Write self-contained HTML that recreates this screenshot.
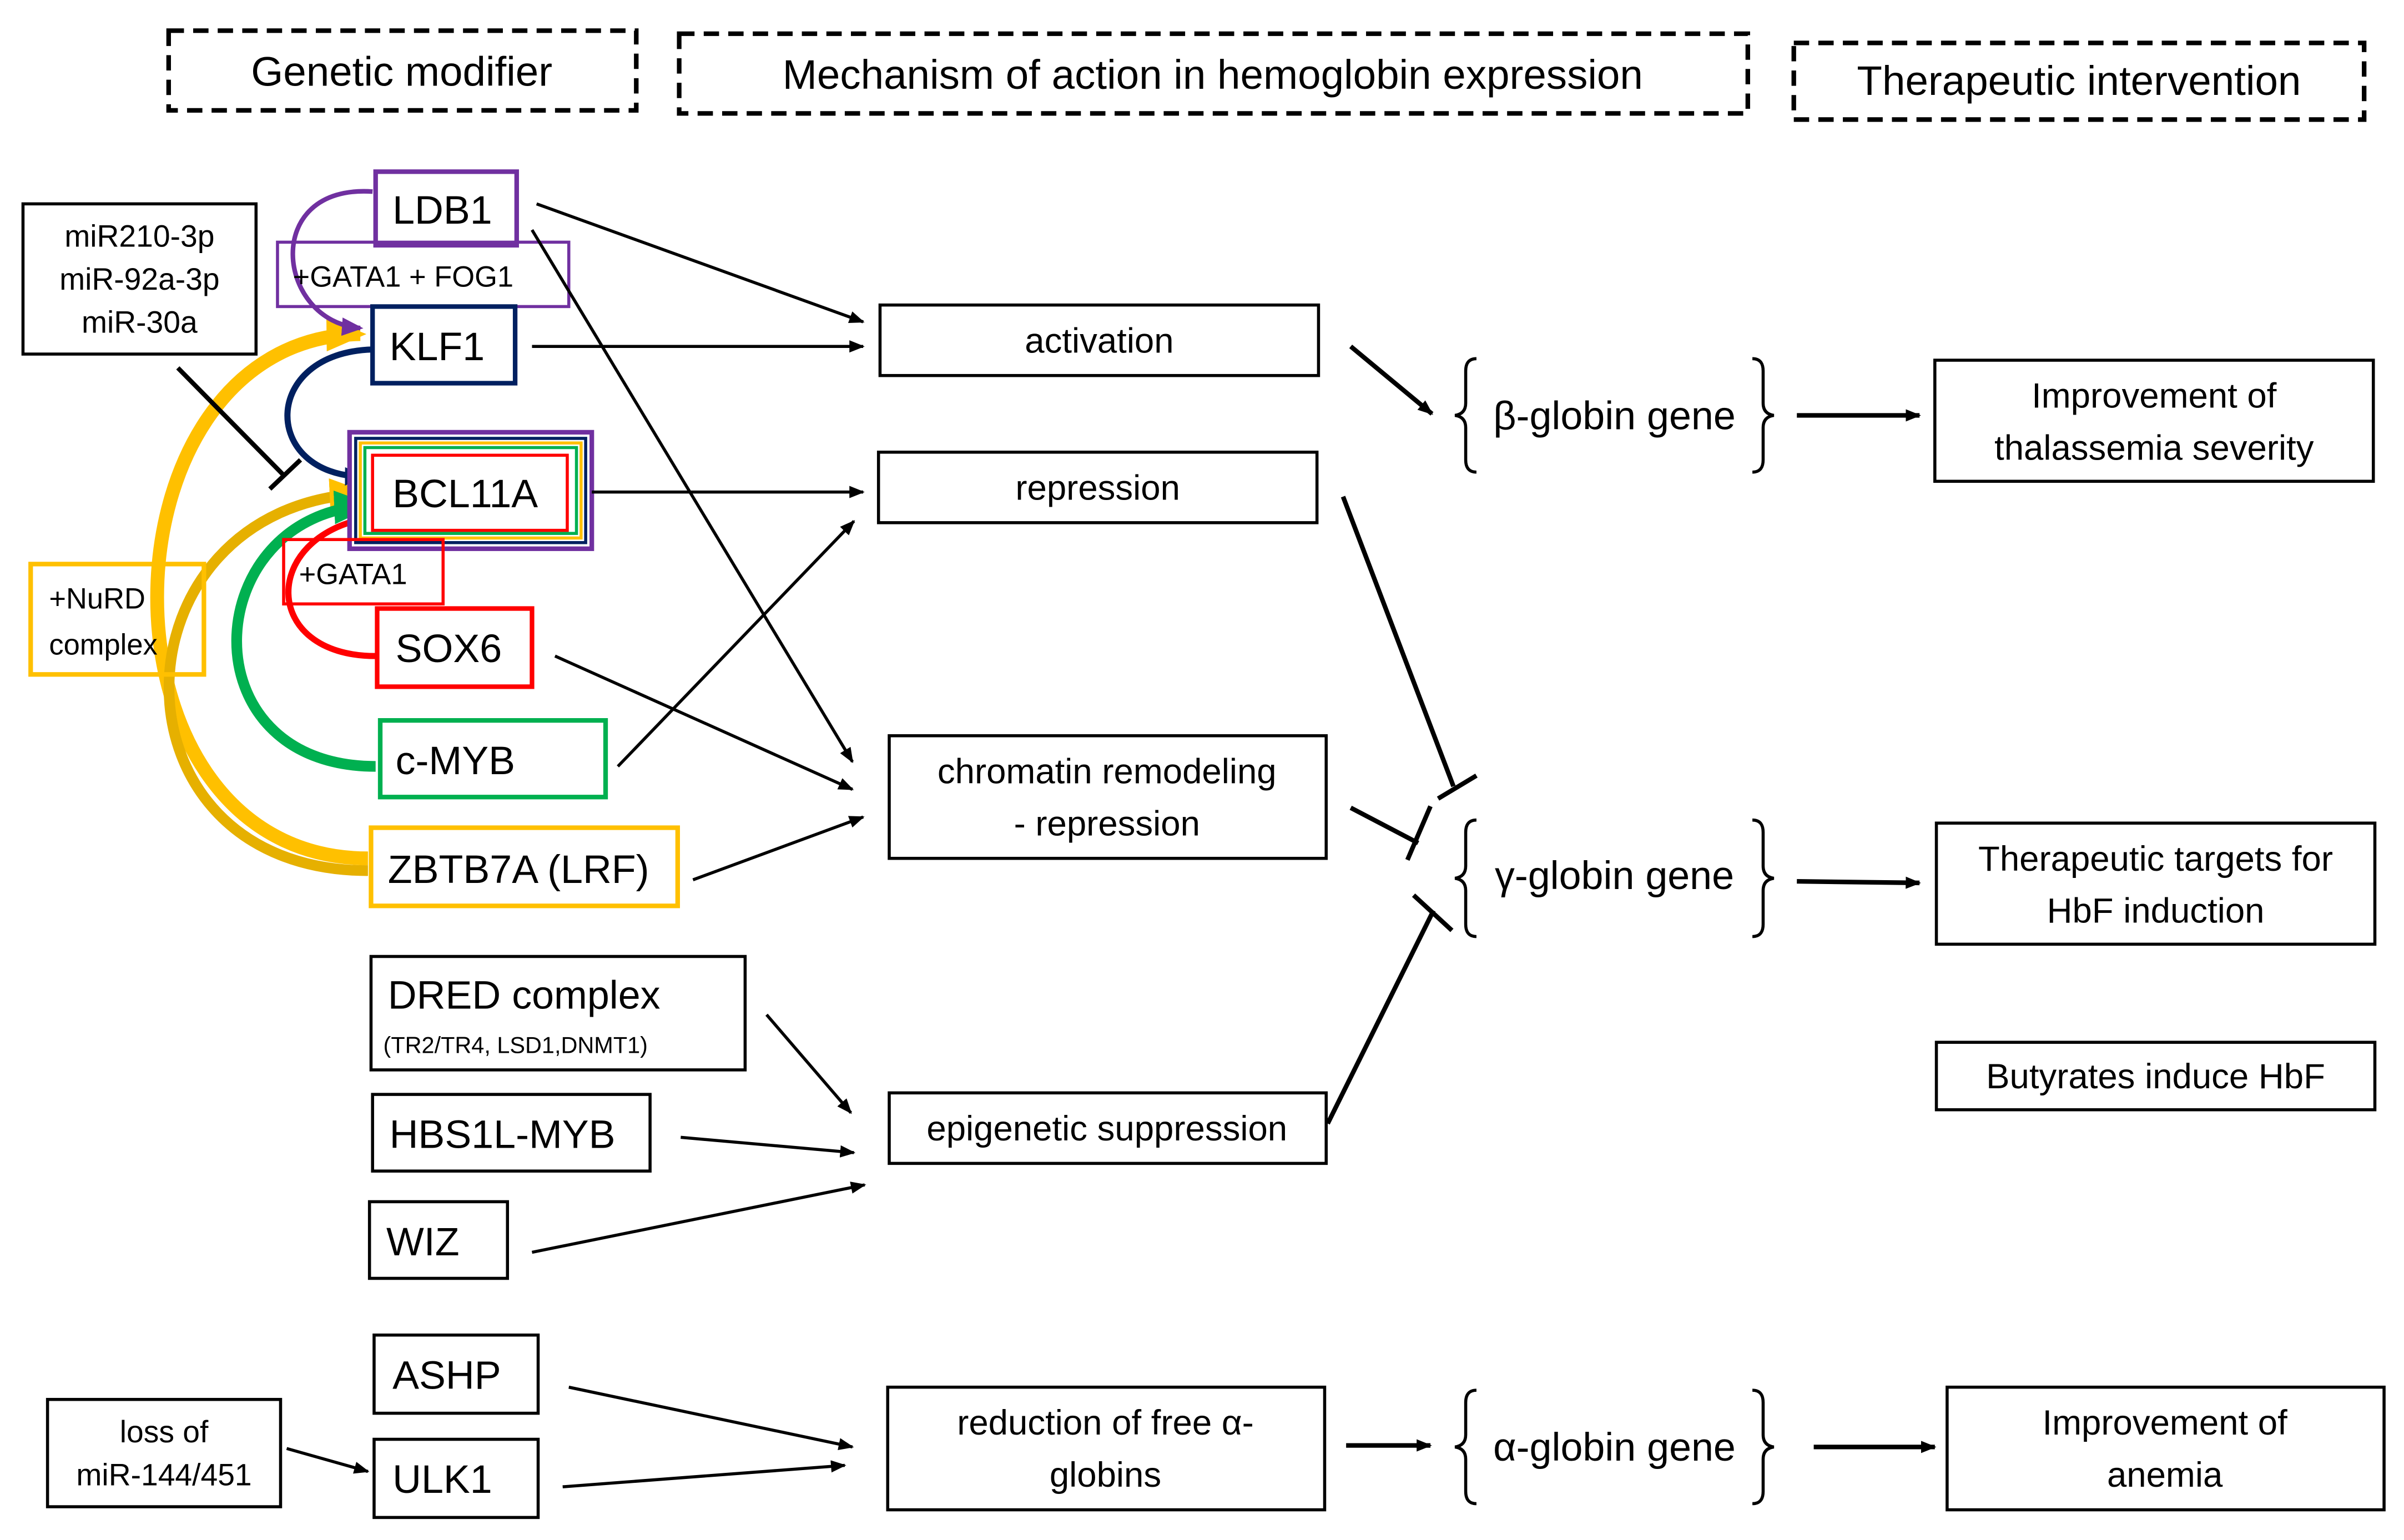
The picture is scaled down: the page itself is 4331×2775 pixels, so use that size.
<!DOCTYPE html>
<html><head><meta charset="utf-8"><style>
html,body{margin:0;padding:0;background:#fff;}
svg{display:block;}
text{font-family:"Liberation Sans",sans-serif;fill:#000;}
</style></head><body>
<svg width="4331" height="2775" viewBox="0 0 1568 1004.7" preserveAspectRatio="none" xmlns="http://www.w3.org/2000/svg">
<defs>
<marker id="ah" markerWidth="10" markerHeight="8" refX="9" refY="4" orient="auto" markerUnits="userSpaceOnUse"><path d="M0,0 L10,4 L0,8 z" fill="#000"/></marker>
<marker id="ahp" markerWidth="14" markerHeight="12" refX="12" refY="6" orient="auto" markerUnits="userSpaceOnUse"><path d="M0,0 L14,6 L0,12 z" fill="#7030a0"/></marker>
<marker id="ahn" markerWidth="14" markerHeight="12" refX="12" refY="6" orient="auto" markerUnits="userSpaceOnUse"><path d="M0,0 L14,6 L0,12 z" fill="#002060"/></marker>
<marker id="ahy" markerWidth="26" markerHeight="22" refX="22" refY="11" orient="auto" markerUnits="userSpaceOnUse"><path d="M0,0 L26,11 L0,22 z" fill="#ffc000"/></marker>
<marker id="ahg" markerWidth="26" markerHeight="22" refX="22" refY="11" orient="auto" markerUnits="userSpaceOnUse"><path d="M0,0 L26,11 L0,22 z" fill="#00b050"/></marker>
</defs>
<rect width="1568" height="1005" fill="#fff"/>
<g fill="none" stroke="#000" stroke-width="3" stroke-dasharray="10,6">
<rect x="110" y="20" width="305" height="52"/>
<rect x="443" y="22" width="697" height="52"/>
<rect x="1170" y="28" width="372" height="50"/>
</g>
<g font-size="27" text-anchor="middle">
<text x="262" y="56">Genetic modifier</text>
<text x="791" y="58">Mechanism of action in hemoglobin expression</text>
<text x="1356" y="62">Therapeutic intervention</text>
</g>

<g fill="none">
<path d="M240,560 C55,560 60,220 235,218" stroke="#ffc000" stroke-width="9" marker-end="url(#ahy)"/>
<path d="M240,568 C65,568 70,330 237,322" stroke="#e6b000" stroke-width="7" marker-end="url(#ahy)"/>
<path d="M245,500 C120,500 130,335 240,330" stroke="#00b050" stroke-width="7" marker-end="url(#ahg)"/>
<path d="M245,428 C170,428 170,350 240,338" stroke="#ff0000" stroke-width="4"/>
<path d="M243,125 C170,120 180,210 235,214" stroke="#7030a0" stroke-width="3" marker-end="url(#ahp)"/>
<path d="M243,228 C170,230 170,310 237,311" stroke="#002060" stroke-width="4" marker-end="url(#ahn)"/>
</g>

<g fill="#fff" stroke-width="3">
<rect x="245" y="112" width="92" height="48" stroke="#7030a0"/>
<rect x="181" y="158" width="190" height="42" stroke="#7030a0" stroke-width="2" fill="none"/>
<rect x="243" y="200" width="93" height="50" stroke="#002060"/>
<rect x="15" y="133" width="152" height="98" stroke="#000" stroke-width="2"/>
<rect x="228" y="282" width="158" height="76" stroke="#7030a0"/>
<rect x="232" y="286" width="150" height="68" stroke="#002060" fill="none" stroke-width="2"/>
<rect x="235" y="289" width="144" height="62" stroke="#ffc000" fill="none" stroke-width="2"/>
<rect x="238" y="292" width="138" height="56" stroke="#00b050" fill="none" stroke-width="2"/>
<rect x="243" y="297" width="127" height="49" stroke="#ff0000" stroke-width="2"/>
<rect x="185" y="352" width="104" height="42" stroke="#ff0000" fill="none" stroke-width="2"/>
<rect x="246" y="397" width="101" height="51" stroke="#ff0000"/>
<rect x="248" y="470" width="147" height="50" stroke="#00b050"/>
<rect x="242" y="540" width="200" height="51" stroke="#ffc000"/>
<rect x="20" y="368" width="113" height="72" stroke="#ffc000" fill="none"/>
<rect x="242" y="624" width="244" height="74" stroke="#000" stroke-width="2"/>
<rect x="243" y="714" width="181" height="50" stroke="#000" stroke-width="2"/>
<rect x="241" y="784" width="90" height="50" stroke="#000" stroke-width="2"/>
<rect x="244" y="871" width="107" height="51" stroke="#000" stroke-width="2"/>
<rect x="244" y="939" width="107" height="51" stroke="#000" stroke-width="2"/>
<rect x="31" y="913" width="152" height="70" stroke="#000" stroke-width="2"/>
</g>
<g font-size="26">
<text x="256" y="146">LDB1</text>
<text x="254" y="235">KLF1</text>
<text x="256" y="331">BCL11A</text>
<text x="258" y="432">SOX6</text>
<text x="258" y="505">c-MYB</text>
<text x="253" y="576">ZBTB7A (LRF)</text>
<text x="253" y="658">DRED complex</text>
<text x="254" y="749">HBS1L-MYB</text>
<text x="252" y="819">WIZ</text>
<text x="256" y="906">ASHP</text>
<text x="256" y="974">ULK1</text>
</g>
<g font-size="19">
<text x="191" y="187">+GATA1 + FOG1</text>
<text x="195" y="381">+GATA1</text>
<text x="32" y="397">+NuRD</text>
<text x="32" y="427">complex</text>
</g>
<text x="250" y="687" font-size="15">(TR2/TR4, LSD1,DNMT1)</text>
<g font-size="20" text-anchor="middle">
<text x="91" y="161">miR210-3p</text>
<text x="91" y="189">miR-92a-3p</text>
<text x="91" y="217">miR-30a</text>
<text x="107" y="941">loss of</text>
<text x="107" y="969">miR-144/451</text>
</g>

<g fill="#fff" stroke="#000" stroke-width="2">
<rect x="574" y="199" width="286" height="46"/>
<rect x="573" y="295" width="286" height="46"/>
<rect x="580" y="480" width="285" height="80"/>
<rect x="580" y="713" width="285" height="46"/>
<rect x="579" y="905" width="285" height="80"/>
<rect x="1262" y="235" width="286" height="79"/>
<rect x="1263" y="537" width="286" height="79"/>
<rect x="1263" y="680" width="286" height="44"/>
<rect x="1270" y="905" width="285" height="80"/>
</g>
<g font-size="23" text-anchor="middle">
<text x="717" y="230">activation</text>
<text x="716" y="326">repression</text>
<text x="722" y="511">chromatin remodeling</text>
<text x="722" y="545">- repression</text>
<text x="722" y="744">epigenetic suppression</text>
<text x="721" y="936">reduction of free α-</text>
<text x="721" y="970">globins</text>
<text x="1405" y="266">Improvement of</text>
<text x="1405" y="300">thalassemia severity</text>
<text x="1406" y="568">Therapeutic targets for</text>
<text x="1406" y="602">HbF induction</text>
<text x="1406" y="710">Butyrates induce HbF</text>
<text x="1412" y="936">Improvement of</text>
<text x="1412" y="970">anemia</text>
</g>

<g font-size="26" text-anchor="middle">
<text x="1053" y="280">β-globin gene</text>
<text x="1053" y="580">γ-globin gene</text>
<text x="1053" y="953">α-globin gene</text>
</g>
<g fill="none" stroke="#000" stroke-width="2">
<path d="M963,234 q-7,0 -7,8 v21 q0,7 -7,8 q7,1 7,8 v21 q0,8 7,8"/>
<path d="M1143,234 q7,0 7,8 v21 q0,7 7,8 q-7,1 -7,8 v21 q0,8 -7,8"/>
<path d="M963,535 q-7,0 -7,8 v22 q0,7 -7,8 q7,1 7,8 v22 q0,8 7,8"/>
<path d="M1143,535 q7,0 7,8 v22 q0,7 7,8 q-7,1 -7,8 v22 q0,8 -7,8"/>
<path d="M963,907 q-7,0 -7,8 v21 q0,7 -7,8 q7,1 7,8 v21 q0,8 7,8"/>
<path d="M1143,907 q7,0 7,8 v21 q0,7 7,8 q-7,1 -7,8 v21 q0,8 -7,8"/>
</g>

<g stroke="#000" stroke-width="2" fill="none" marker-end="url(#ah)">
<line x1="350" y1="133" x2="563" y2="210"/>
<line x1="347" y1="150" x2="556" y2="497"/>
<line x1="347" y1="226" x2="563" y2="226"/>
<line x1="386" y1="321" x2="563" y2="321"/>
<line x1="362" y1="428" x2="556" y2="515"/>
<line x1="403" y1="500" x2="557" y2="340"/>
<line x1="452" y1="574" x2="563" y2="533"/>
<line x1="500" y1="662" x2="555" y2="726"/>
<line x1="444" y1="742" x2="557" y2="752"/>
<line x1="347" y1="817" x2="564" y2="773"/>
<line x1="371" y1="905" x2="556" y2="944"/>
<line x1="367" y1="970" x2="551" y2="956"/>
<line x1="187" y1="945" x2="240" y2="960"/>
</g>
<g stroke="#000" stroke-width="3" fill="none" marker-end="url(#ah)">
<line x1="881" y1="226" x2="934" y2="270"/>
<line x1="1172" y1="271" x2="1252" y2="271"/>
<line x1="1172" y1="575" x2="1252" y2="576"/>
<line x1="878" y1="943" x2="933" y2="943"/>
<line x1="1183" y1="944" x2="1262" y2="944"/>
</g>
<g stroke="#000" stroke-width="3" fill="none">
<line x1="876" y1="324" x2="948" y2="513"/>
<line x1="938" y1="521" x2="963" y2="506"/>
<line x1="881" y1="527" x2="925" y2="550"/>
<line x1="918" y1="561" x2="933" y2="526"/>
<line x1="866" y1="733" x2="935" y2="594"/>
<line x1="922" y1="584" x2="947" y2="607"/>
<line x1="116" y1="240" x2="185" y2="310"/>
<line x1="176" y1="319" x2="196" y2="300"/>
</g>
</svg>
</body></html>
